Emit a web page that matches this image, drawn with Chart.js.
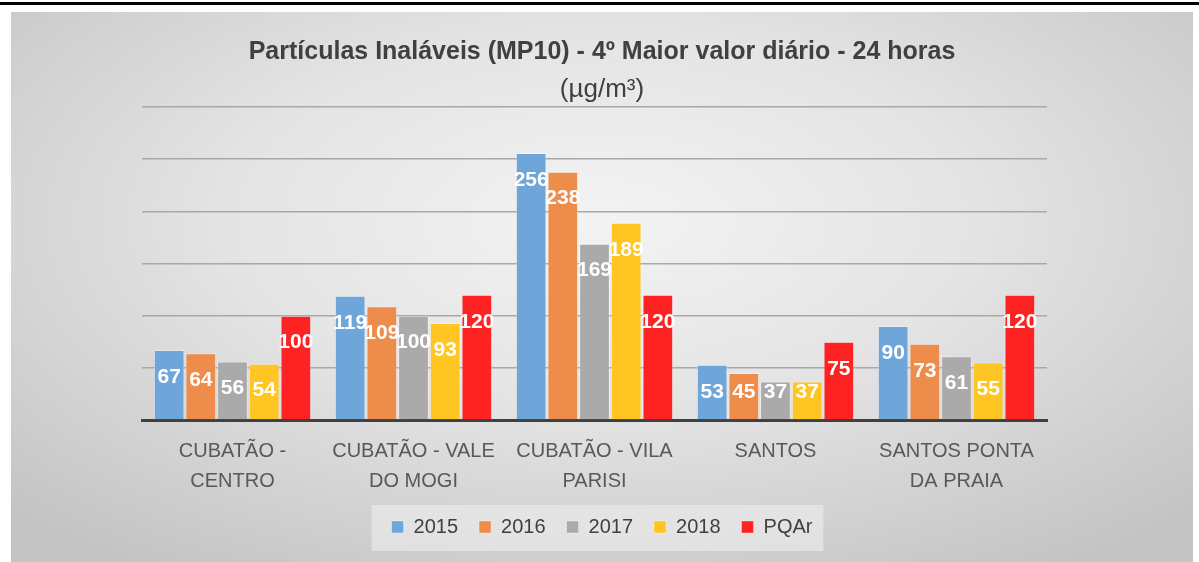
<!DOCTYPE html>
<html>
<head>
<meta charset="utf-8">
<script src="https://cdn.jsdelivr.net/npm/chart.js@4.4.1/dist/chart.umd.min.js"></script>
<style>
  html, body { margin: 0; padding: 0; background: #fff; }
  body { width: 1199px; height: 562px; position: relative; overflow: hidden; }
  .topline { position: absolute; left: 0; top: 2px; width: 1199px; height: 3px; background: #000; }
  .panel {
    position: absolute; left: 11px; top: 12px; width: 1182px; height: 550px;
    background: radial-gradient(ellipse 70% 75% at 50% 38%, #f3f3f3 0%, #e4e4e4 45%, #c4c4c4 100%);
  }
</style>
</head>
<body>
<div class="topline"></div>
<div class="panel"><canvas id="chart"></canvas></div>
<script>
// Stations and yearly values (µg/m³)
const categories = [
  ['CUBATÃO -', 'CENTRO'],
  ['CUBATÃO - VALE', 'DO MOGI'],
  ['CUBATÃO - VILA', 'PARISI'],
  'SANTOS',
  ['SANTOS PONTA', 'DA PRAIA']
];
const seriesNames = ['2015', '2016', '2017', '2018', 'PQAr'];
const values2015 = [67, 119, 256, 53, 90];
const values2016 = [64, 109, 238, 45, 73];
const values2017 = [56, 100, 169, 37, 61];
const values2018 = [54, 93, 189, 37, 55];
const valuesPQAr = [100, 120, 120, 75, 120];
const yTicks = [0, 50, 100, 150, 200, 250, 300];

const colors = ['#6fa6d9', '#ed8c4b', '#aaaaaa', '#fec523', '#fe2222'];
const FONT = '"Liberation Sans", Arial, sans-serif';

// White value labels inside the top of each bar
const barLabels = {
  id: 'barLabels',
  afterDatasetsDraw(chart) {
    const ctx = chart.ctx;
    ctx.save();
    ctx.font = 'bold 21px ' + FONT;
    ctx.fillStyle = '#ffffff';
    ctx.textAlign = 'center';
    ctx.textBaseline = 'middle';
    chart.data.datasets.forEach((ds, i) => {
      chart.getDatasetMeta(i).data.forEach((bar, j) => {
        const y = Math.min(bar.y + 27, bar.base - 27);
        ctx.fillText(ds.data[j], bar.x, y);
      });
    });
    ctx.restore();
  }
};

// Light box behind the legend
const legendBox = {
  id: 'legendBox',
  beforeDraw(chart) {
    const boxes = chart.legend && chart.legend.legendHitBoxes;
    if (!boxes || !boxes.length) return;
    const last = boxes[boxes.length - 1];
    const x0 = boxes[0].left - 20;
    const x1 = last.left + last.width + 11;
    const y0 = boxes[0].top - 12;
    const y1 = boxes[0].top + boxes[0].height + 14;
    const ctx = chart.ctx;
    ctx.save();
    ctx.fillStyle = 'rgba(240,240,240,0.55)';
    ctx.fillRect(x0, y0, x1 - x0, y1 - y0);
    ctx.restore();
  }
};

const allValues = [values2015, values2016, values2017, values2018, valuesPQAr];

new Chart(document.getElementById('chart'), {
  type: 'bar',
  data: {
    labels: categories,
    datasets: seriesNames.map((name, i) => ({
      label: name,
      data: allValues[i],
      backgroundColor: colors[i],
      borderColor: 'rgba(255,255,255,0.35)',
      borderWidth: 1,
      categoryPercentage: 0.875,
      barPercentage: 0.97
    }))
  },
  options: {
    responsive: true,
    maintainAspectRatio: false,
    animation: false,
    layout: { padding: { left: 131, right: 131, top: 0, bottom: 15 } },
    plugins: {
      title: {
        display: true,
        text: 'Partículas Inaláveis (MP10) - 4º Maior valor diário - 24 horas',
        color: '#404040',
        font: { family: FONT, size: 25, weight: 'bold', lineHeight: 1.2 },
        padding: { top: 25, bottom: 9 }
      },
      subtitle: {
        display: true,
        text: '(µg/m³)',
        color: '#404040',
        font: { family: FONT, size: 26, weight: 'normal', lineHeight: 1.1 },
        padding: { top: 0, bottom: 2.4 }
      },
      legend: {
        position: 'bottom',
        labels: {
          color: '#404040',
          font: { family: FONT, size: 20 },
          boxWidth: 12,
          boxHeight: 12,
          padding: 21
        }
      },
      tooltip: { enabled: false }
    },
    scales: {
      x: {
        grid: { display: false, drawTicks: false },
        border: { display: true, color: '#404040', width: 3 },
        afterFit: axis => { axis.height = 76; },
        ticks: {
          color: '#595959',
          font: { family: FONT, size: 20, lineHeight: '30px' },
          padding: 16,
          maxRotation: 0,
          autoSkip: false
        }
      },
      y: {
        min: yTicks[0],
        max: yTicks[yTicks.length - 1],
        afterBuildTicks: axis => { axis.ticks = yTicks.map(v => ({ value: v })); },
        grid: { color: '#a8a8a8', lineWidth: 1.5, drawTicks: false },
        border: { display: false },
        ticks: { display: false }
      },
      // empty right-hand axis, only keeps the plot off the right edge
      yRight: {
        position: 'right',
        grid: { display: false, drawTicks: false },
        border: { display: false },
        ticks: { display: false },
        afterFit: axis => { axis.width = 15; }
      }
    }
  },
  plugins: [barLabels, legendBox]
});
</script>
</body>
</html>
